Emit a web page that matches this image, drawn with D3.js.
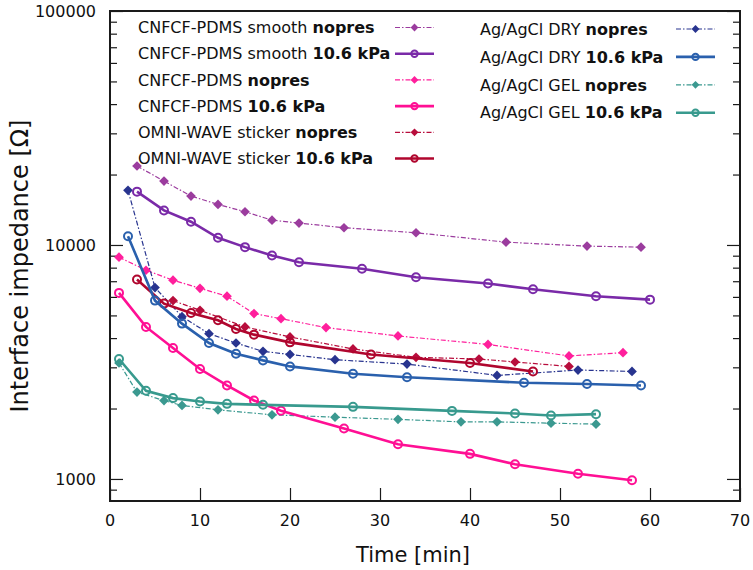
<!DOCTYPE html>
<html>
<head>
<meta charset="utf-8">
<script src="https://cdn.jsdelivr.net/npm/d3@7"></script>
<style>
  body { margin: 0; background: #fff; }
  svg { font-family: "DejaVu Sans", Verdana, sans-serif; }
</style>
</head>
<body>
<div id="chart"></div>
<script>
// time [min] / impedance [Ohm] per series
const smoothNopresT = [3, 6, 9, 12, 15, 18, 21, 26, 34, 44, 53, 59];
const smoothNopresZ = [21750, 18750, 16180, 14910, 13870, 12770, 12400, 11850, 11280, 10280, 9890, 9790];
const smoothPresT = [3, 6, 9, 12, 15, 18, 21, 28, 34, 42, 47, 54, 60];
const smoothPresZ = [16900, 14050, 12570, 10730, 9790, 9020, 8440, 7910, 7280, 6840, 6470, 6040, 5840];
const cnfcfNopresT = [1, 4, 7, 10, 13, 16, 19, 24, 32, 42, 51, 57];
const cnfcfNopresZ = [8870, 7800, 7070, 6530, 6040, 5090, 4840, 4435, 4085, 3757, 3355, 3465];
const cnfcfPresT = [1, 4, 7, 10, 13, 16, 19, 26, 32, 40, 45, 52, 58];
const cnfcfPresZ = [6240, 4465, 3628, 2950, 2510, 2165, 1955, 1642, 1408, 1280, 1156, 1053, 987];
const omniNopresT = [7, 10, 15, 20, 27, 34, 41, 45, 51];
const omniNopresZ = [5785, 5259, 4465, 4045, 3594, 3311, 3256, 3162, 3027];
const omniPresT = [3, 6, 9, 12, 14, 16, 20, 29, 40, 47];
const omniPresZ = [7115, 5616, 5123, 4764, 4375, 4138, 3835, 3405, 3130, 2881];
const dryNopresT = [2, 5, 8, 11, 14, 17, 20, 25, 33, 43, 52, 58];
const dryNopresZ = [17120, 6577, 4940, 4178, 3811, 3510, 3405, 3233, 3098, 2770, 2921, 2881];
const dryPresT = [2, 5, 8, 11, 14, 17, 20, 27, 33, 46, 53, 59];
const dryPresZ = [10900, 5785, 4612, 3811, 3430, 3212, 3027, 2817, 2721, 2577, 2545, 2510];
const gelNopresT = [1, 3, 6, 8, 12, 18, 25, 32, 39, 43, 49, 54];
const gelNopresZ = [3130, 2351, 2163, 2061, 1974, 1880, 1837, 1798, 1754, 1754, 1732, 1715];
const gelPresT = [1, 4, 7, 10, 13, 17, 27, 38, 45, 49, 54];
const gelPresZ = [3256, 2382, 2216, 2143, 2094, 2074, 2033, 1954, 1905, 1866, 1892];

const seriesNames = [
  ['CNFCF-PDMS smooth ', 'nopres'], ['CNFCF-PDMS smooth ', '10.6 kPa'],
  ['CNFCF-PDMS ', 'nopres'], ['CNFCF-PDMS ', '10.6 kPa'],
  ['OMNI-WAVE sticker ', 'nopres'], ['OMNI-WAVE sticker ', '10.6 kPa'],
  ['Ag/AgCl DRY ', 'nopres'], ['Ag/AgCl DRY ', '10.6 kPa'],
  ['Ag/AgCl GEL ', 'nopres'], ['Ag/AgCl GEL ', '10.6 kPa']
];
const xTicks = [0, 10, 20, 30, 40, 50, 60, 70];
const yTicks = [1000, 10000, 100000];

const colors = ['#9b3c9e', '#7a2aa8', '#ff1f9c', '#ff0f94', '#b80d3c', '#b0062e',
  '#28348f', '#2a60ad', '#3b9990', '#389a8e'];

const width = 753, height = 570;
const margin = {left: 110, right: 13, top: 11, bottom: 69};
const plotW = width - margin.left - margin.right;
const plotH = height - margin.top - margin.bottom;
const axisColor = '#1a1a1a';

const xScale = d3.scaleLinear().domain([0, 70]).range([0, plotW]);
const yScale = d3.scaleLog().domain([805, 100000]).range([plotH, 0]);

const series = [
  [smoothNopresT, smoothNopresZ], [smoothPresT, smoothPresZ],
  [cnfcfNopresT, cnfcfNopresZ], [cnfcfPresT, cnfcfPresZ],
  [omniNopresT, omniNopresZ], [omniPresT, omniPresZ],
  [dryNopresT, dryNopresZ], [dryPresT, dryPresZ],
  [gelNopresT, gelNopresZ], [gelPresT, gelPresZ]
].map(([t, z], i) => ({
  name: seriesNames[i],
  color: colors[i],
  pressed: i % 2 === 1,
  points: t.map((x, j) => ({x, y: z[j]}))
}));

const svg = d3.select('#chart').append('svg')
  .attr('width', width)
  .attr('height', height);

const g = svg.append('g')
  .attr('transform', `translate(${margin.left}, ${margin.top})`);

/* axes: left with labels, right mirrored, bottom with labels */
const minorTicks = [];
for (let d = 100; d <= 10000; d *= 10) {
  for (let k = 1; k <= 9; k++) {
    const v = d * k;
    if (v >= 805 && v <= 100000 && !yTicks.includes(v)) minorTicks.push(v);
  }
}

const leftAxis = g.append('g')
  .call(d3.axisRight(yScale).tickValues(yTicks).tickSize(13).tickFormat(''));
const leftMinor = g.append('g')
  .call(d3.axisRight(yScale).tickValues(minorTicks).tickSize(7).tickFormat(''));
const rightAxis = g.append('g')
  .attr('transform', `translate(${plotW}, 0)`)
  .call(d3.axisLeft(yScale).tickValues(yTicks).tickSize(13).tickFormat(''));
const rightMinor = g.append('g')
  .attr('transform', `translate(${plotW}, 0)`)
  .call(d3.axisLeft(yScale).tickValues(minorTicks).tickSize(7).tickFormat(''));
const bottomAxis = g.append('g')
  .attr('transform', `translate(0, ${plotH})`)
  .call(d3.axisTop(xScale).tickValues(xTicks).tickSize(13).tickFormat(''));

[leftAxis, leftMinor, rightAxis, rightMinor, bottomAxis].forEach(a => {
  a.select('.domain').remove();
  a.selectAll('line').attr('stroke', axisColor).attr('stroke-width', 1.2);
});

g.append('g').selectAll('text')
  .data(yTicks)
  .join('text')
  .attr('x', -14)
  .attr('y', d => yScale(d))
  .attr('dy', '0.36em')
  .attr('text-anchor', 'end')
  .attr('font-size', 16)
  .attr('fill', '#111')
  .text(d => d);

g.append('g').selectAll('text')
  .data(xTicks)
  .join('text')
  .attr('x', d => xScale(d))
  .attr('y', plotH + 25)
  .attr('text-anchor', 'middle')
  .attr('font-size', 16)
  .attr('fill', '#111')
  .text(d => d);

g.append('rect')
  .attr('width', plotW)
  .attr('height', plotH)
  .attr('fill', 'none')
  .attr('stroke', axisColor)
  .attr('stroke-width', 2);

svg.append('text')
  .attr('transform', `translate(28, 266) rotate(-90)`)
  .attr('text-anchor', 'middle')
  .attr('font-size', 24)
  .attr('fill', '#111')
  .text('Interface impedance [Ω]');

svg.append('text')
  .attr('x', 413)
  .attr('y', 562)
  .attr('text-anchor', 'middle')
  .attr('font-size', 21)
  .attr('fill', '#111')
  .text('Time [min]');

/* series */
const line = d3.line()
  .x(d => xScale(d.x))
  .y(d => yScale(d.y));

const diamond = d3.symbol().type(d3.symbolDiamond2);

function drawMarker(sel, s, scale) {
  if (s.pressed) {
    sel.append('circle')
      .attr('r', 4 * scale)
      .attr('fill', 'none')
      .attr('stroke', s.color)
      .attr('stroke-width', 2);
  } else {
    sel.append('path')
      .attr('d', diamond.size(60 * scale * scale)())
      .attr('fill', s.color);
  }
}

// thin dashed series first, thick pressed series on top
const order = [0, 2, 4, 6, 8, 1, 3, 5, 7, 9];
order.forEach(i => {
  const s = series[i];
  const sg = g.append('g');
  sg.append('path')
    .datum(s.points)
    .attr('d', line)
    .attr('fill', 'none')
    .attr('stroke', s.color)
    .attr('stroke-width', s.pressed ? 2.6 : 1.2)
    .attr('stroke-dasharray', s.pressed ? null : '5,2,1.5,2');
  s.points.forEach(p => {
    const m = sg.append('g')
      .attr('transform', `translate(${xScale(p.x)}, ${yScale(p.y)})`);
    drawMarker(m, s, 1);
  });
});

/* legend */
const legendCols = [
  {textX: 138, x0: 395, x1: 434, y0: 27.5, step: 26.2, items: [0, 1, 2, 3, 4, 5]},
  {textX: 480, x0: 676, x1: 715, y0: 29, step: 27.9, items: [6, 7, 8, 9]}
];

legendCols.forEach(col => {
  col.items.forEach((idx, k) => {
    const s = series[idx];
    const y = col.y0 + k * col.step;
    const t = svg.append('text')
      .attr('x', col.textX)
      .attr('y', y)
      .attr('dy', '0.36em')
      .attr('font-size', 16)
      .attr('fill', '#111');
    t.append('tspan').text(s.name[0]);
    t.append('tspan').attr('font-weight', 'bold').text(s.name[1]);

    svg.append('line')
      .attr('x1', col.x0)
      .attr('x2', col.x1)
      .attr('y1', y)
      .attr('y2', y)
      .attr('stroke', s.color)
      .attr('stroke-width', s.pressed ? 2.6 : 1.2)
      .attr('stroke-dasharray', s.pressed ? null : '5,2,1.5,2');
    const m = svg.append('g')
      .attr('transform', `translate(${(col.x0 + col.x1) / 2}, ${y})`);
    drawMarker(m, s, 0.8);
  });
});
</script>
</body>
</html>
